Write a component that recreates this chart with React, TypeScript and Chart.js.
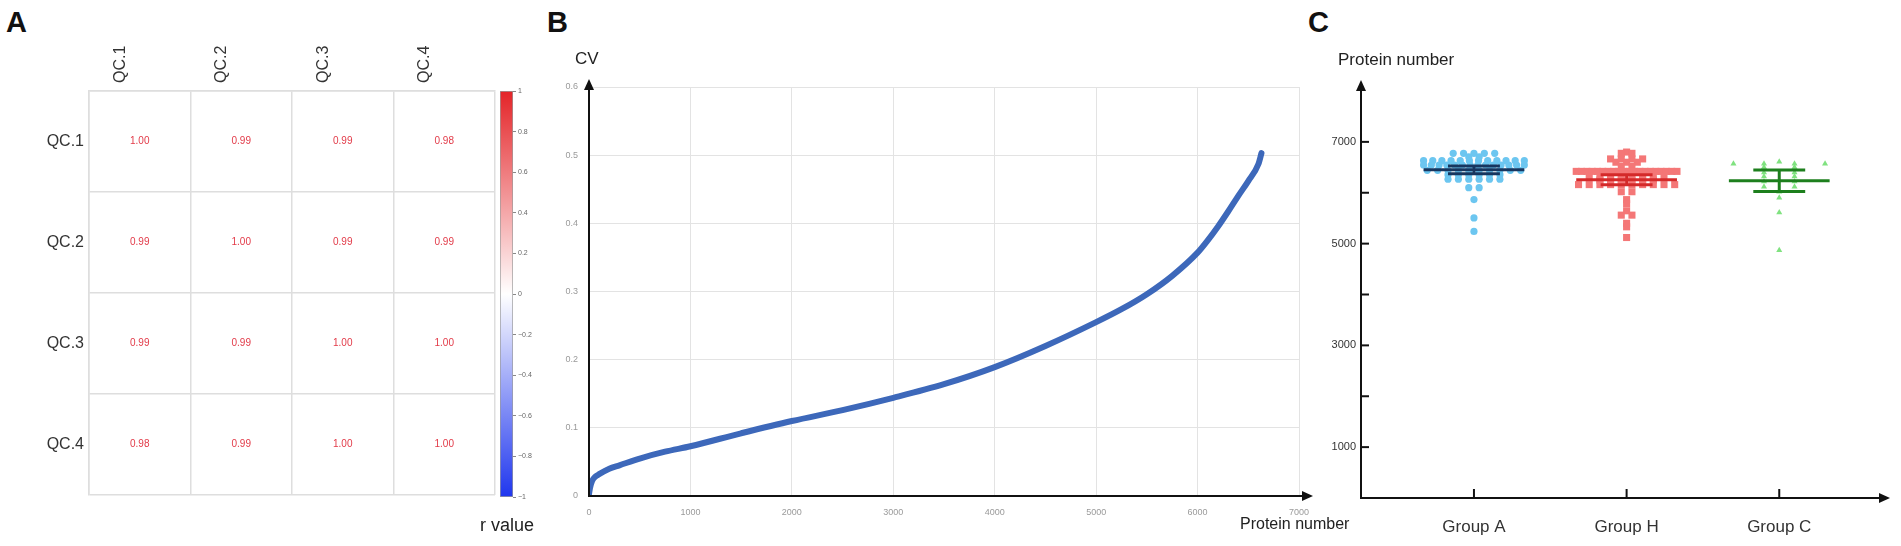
import React, { useEffect, useRef } from 'react';
import { Chart, registerables } from 'chart.js';

Chart.register(...registerables);

const FONT = '"Liberation Sans", Arial, Helvetica, sans-serif';

// ---------- Panel A: correlation matrix ----------
const qcLabels = ['QC.1', 'QC.2', 'QC.3', 'QC.4'];
const corrQC1 = [1.0, 0.99, 0.99, 0.98];
const corrQC2 = [0.99, 1.0, 0.99, 0.99];
const corrQC3 = [0.99, 0.99, 1.0, 1.0];
const corrQC4 = [0.98, 0.99, 1.0, 1.0];
const colorbarMin = -1;
const colorbarMax = 1;
const colorbarStep = 0.2;

// ---------- Panel B: CV curve ----------
const proteinRank = [0, 10, 30, 60, 100, 200, 300, 500, 750, 1000, 1500, 2000, 2500, 3000, 3500, 4000, 4500, 5000, 5250, 5500, 5750, 6000, 6100, 6200, 6300, 6400, 6500, 6600, 6630];
const cvValues = [0.003, 0.012, 0.022, 0.028, 0.032, 0.04, 0.045, 0.055, 0.065, 0.073, 0.092, 0.11, 0.126, 0.144, 0.164, 0.189, 0.22, 0.255, 0.274, 0.296, 0.323, 0.357, 0.375, 0.395, 0.417, 0.44, 0.462, 0.487, 0.503];
const cvAxisMax = 0.6;
const cvAxisStep = 0.1;
const rankAxisMax = 7000;
const rankAxisStep = 1000;

// ---------- Panel C: protein numbers per group ----------
const groupNames = ['Group A', 'Group H', 'Group C'];
const groupAValues = [
  6775, 6775, 6775, 6775, 6775,
  6705, 6705,
  6630, 6630, 6630, 6630, 6630, 6630, 6630, 6630, 6630, 6630, 6630, 6630,
  6545, 6545, 6545, 6545, 6545, 6545, 6545, 6545, 6545, 6545, 6545, 6545, 6545, 6545,
  6440, 6440, 6440, 6440, 6440, 6440, 6440, 6440, 6440, 6440,
  6355, 6355, 6355, 6355, 6355, 6355,
  6265, 6265, 6265, 6265, 6265, 6265,
  6100, 6100,
  5865, 5505, 5240,
];
const groupHValues = [
  6800, 6775, 6775,
  6665, 6665, 6665, 6665,
  6600, 6600, 6600,
  6520, 6520,
  6420, 6420, 6420, 6420, 6420, 6420, 6420, 6420, 6420, 6420,
  6420, 6420, 6420, 6420, 6420, 6420, 6420, 6420, 6420, 6420,
  6330, 6330, 6330, 6330, 6330, 6330, 6330, 6330,
  6250, 6250, 6250, 6250, 6250, 6250,
  6160, 6160, 6160, 6160, 6160, 6160, 6160, 6160, 6160, 6160,
  6020, 6020,
  5865, 5785, 5645, 5560, 5560, 5400, 5330, 5120,
];
const groupCValues = [
  6610,
  6570, 6570, 6570, 6570,
  6500, 6500,
  6400, 6400,
  6320, 6320,
  6220, 6220,
  6120, 6120,
  6020, 5900, 5610, 4870,
];
const groupMeans = [6450, 6255, 6235];
const groupErrors = [75, 100, 210];
const proteinTickValues = [1000, 2000, 3000, 4000, 5000, 6000, 7000];

const groupPointColors = ['#6cc6f0', '#f47777', '#80e280'];
const groupLineColors = ['#17365f', '#d42a2a', '#1d7f1d'];

// ---------- helpers ----------
function swarm(values: number[], idx: number, spacing: number, maxHalf: number) {
  const counts = new Map<number, number>();
  values.forEach((v) => counts.set(v, (counts.get(v) || 0) + 1));
  const seen = new Map<number, number>();
  return values.map((v) => {
    const n = counts.get(v) as number;
    const k = seen.get(v) || 0;
    seen.set(v, k + 1);
    const step = n > 1 ? Math.min(spacing, (2 * maxHalf) / (n - 1)) : 0;
    return { x: idx + (k - (n - 1) / 2) * step, y: v };
  });
}

const arrowAxes = (id: string, yTip: number, xTip: number) => ({
  id,
  afterDraw(chart: any) {
    const { ctx, chartArea: a } = chart;
    const top = a.top - yTip;
    const right = a.right + xTip;
    ctx.save();
    ctx.strokeStyle = '#111';
    ctx.fillStyle = '#111';
    ctx.lineWidth = 2;
    ctx.beginPath();
    ctx.moveTo(a.left, top + 8);
    ctx.lineTo(a.left, a.bottom);
    ctx.lineTo(right - 8, a.bottom);
    ctx.stroke();
    ctx.beginPath();
    ctx.moveTo(a.left, top);
    ctx.lineTo(a.left - 5, top + 11);
    ctx.lineTo(a.left + 5, top + 11);
    ctx.closePath();
    ctx.fill();
    ctx.beginPath();
    ctx.moveTo(right, a.bottom);
    ctx.lineTo(right - 11, a.bottom - 5);
    ctx.lineTo(right - 11, a.bottom + 5);
    ctx.closePath();
    ctx.fill();
    ctx.restore();
  },
});

type TextItem = { text: string; x: number; y: number; size: number; align: CanvasTextAlign };
const textPlugin = (id: string, items: TextItem[]) => ({
  id,
  afterDraw(chart: any) {
    const ctx = chart.ctx;
    ctx.save();
    items.forEach((it) => {
      ctx.font = `${it.size}px ${FONT}`;
      ctx.fillStyle = '#222';
      ctx.textAlign = it.align;
      ctx.textBaseline = 'middle';
      ctx.fillText(it.text, it.x, it.y);
    });
    ctx.restore();
  },
});

const baseOptions = {
  responsive: false,
  animation: false as const,
  devicePixelRatio: 1,
  events: [] as any[],
};

// ---------- Panel A charts ----------
function heatmapConfig(): any {
  const matrix = [corrQC1, corrQC2, corrQC3, corrQC4];
  const cells = matrix.flatMap((row, r) => row.map((v, c) => ({ x: qcLabels[c], y: qcLabels[r], v })));
  const cellText = {
    id: 'cellText',
    afterDatasetsDraw(chart: any) {
      const ctx = chart.ctx;
      const meta = chart.getDatasetMeta(0);
      const data = chart.data.datasets[0].data;
      ctx.save();
      ctx.font = `10px ${FONT}`;
      ctx.fillStyle = '#e23a48';
      ctx.textAlign = 'center';
      ctx.textBaseline = 'middle';
      meta.data.forEach((el: any, i: number) => ctx.fillText(data[i].v.toFixed(2), el.x, el.y));
      ctx.restore();
    },
  };
  const tickFont = { family: FONT, size: 16 };
  return {
    type: 'line',
    data: { datasets: [{ data: cells, showLine: false, pointRadius: 0, pointHoverRadius: 0 }] },
    options: {
      ...baseOptions,
      layout: { padding: { left: 0, right: 5, top: 0, bottom: 15 } },
      plugins: { legend: { display: false }, tooltip: { enabled: false } },
      scales: {
        x: {
          type: 'category',
          labels: qcLabels,
          position: 'top',
          offset: true,
          grid: { offset: true, color: '#dedede', lineWidth: 1.5, drawTicks: false },
          border: { color: '#dedede', width: 1.5 },
          ticks: { minRotation: 90, maxRotation: 90, autoSkip: false, padding: 8, color: '#333', font: tickFont },
          afterFit: (s: any) => { s.height = 51; },
        },
        y: {
          type: 'category',
          labels: qcLabels,
          offset: true,
          grid: { offset: true, color: '#dedede', lineWidth: 1.5, drawTicks: false },
          border: { color: '#dedede', width: 1.5 },
          ticks: { autoSkip: false, padding: 5, color: '#333', font: tickFont },
          afterFit: (s: any) => { s.width = 89; },
        },
      },
    },
    plugins: [cellText],
  };
}

function colorbarConfig(): any {
  return {
    type: 'bar',
    data: {
      labels: [''],
      datasets: [
        {
          data: [[colorbarMin, colorbarMax]],
          backgroundColor: (c: any) => {
            const ca = c.chart.chartArea;
            if (!ca) return '#fff';
            const g = c.chart.ctx.createLinearGradient(0, ca.top, 0, ca.bottom);
            g.addColorStop(0, '#e42428');
            g.addColorStop(0.5, '#ffffff');
            g.addColorStop(1, '#1f36ee');
            return g;
          },
          borderColor: '#9a9a9a',
          borderWidth: 1,
          borderSkipped: false,
          barPercentage: 1,
          categoryPercentage: 1,
        },
      ],
    },
    options: {
      ...baseOptions,
      layout: { padding: { left: 5, right: 0, top: 11, bottom: 8 } },
      plugins: { legend: { display: false }, tooltip: { enabled: false } },
      scales: {
        x: { display: false },
        y: {
          position: 'right',
          min: colorbarMin,
          max: colorbarMax,
          ticks: {
            stepSize: colorbarStep,
            padding: 2,
            color: '#666',
            font: { family: FONT, size: 7 },
            callback: (v: number) => {
              const r = Math.round(v * 10) / 10;
              const s = Number.isInteger(r) ? String(r) : r.toFixed(1);
              return s.replace('-', '\u2212');
            },
          },
          grid: { drawOnChartArea: false, drawTicks: true, tickLength: 3, color: '#888' },
          border: { display: false },
          afterFit: (s: any) => { s.width = 32; },
        },
      },
    },
  };
}

// ---------- Panel B chart ----------
function cvConfig(): any {
  const tickFont = { family: FONT, size: 9 };
  return {
    type: 'scatter',
    data: {
      datasets: [
        {
          data: proteinRank.map((x, i) => ({ x, y: cvValues[i] })),
          showLine: true,
          borderColor: '#3d68ba',
          borderWidth: 6,
          pointRadius: 0,
          cubicInterpolationMode: 'monotone',
          borderCapStyle: 'round',
          borderJoinStyle: 'round',
        },
      ],
    },
    options: {
      ...baseOptions,
      layout: { padding: { left: 0, right: 81, top: 47, bottom: 20 } },
      plugins: { legend: { display: false }, tooltip: { enabled: false } },
      scales: {
        x: {
          type: 'linear',
          min: 0,
          max: rankAxisMax,
          ticks: { stepSize: rankAxisStep, padding: 11, color: '#9a9a9a', font: tickFont, maxRotation: 0, callback: (v: number) => String(v) },
          grid: { color: '#e3e3e3', drawTicks: false },
          border: { display: false },
          afterFit: (s: any) => { s.height = 30; },
        },
        y: {
          type: 'linear',
          min: 0,
          max: cvAxisMax,
          ticks: { stepSize: cvAxisStep, padding: 11, color: '#9a9a9a', font: tickFont, callback: (v: number) => String(Math.round(v * 10) / 10) },
          grid: { color: '#e3e3e3', drawTicks: false },
          border: { display: false },
          afterFit: (s: any) => { s.width = 49; },
        },
      },
    },
    plugins: [
      arrowAxes('arrowB', 8, 14),
      textPlugin('titlesB', [
        { text: 'CV', x: 35, y: 19, size: 17, align: 'left' },
        { text: 'Protein number', x: 700, y: 485, size: 16, align: 'left' },
      ]),
    ],
  };
}

// ---------- Panel C chart ----------
function groupConfig(): any {
  const lineDatasets = groupNames.flatMap((_, i) => {
    const m = groupMeans[i];
    const e = groupErrors[i];
    const mk = (pts: { x: number; y: number }[]) => ({
      data: pts,
      showLine: true,
      borderColor: groupLineColors[i],
      borderWidth: 3,
      pointRadius: 0,
    });
    return [
      mk([{ x: i - 0.33, y: m }, { x: i + 0.33, y: m }]),
      mk([{ x: i - 0.17, y: m + e }, { x: i + 0.17, y: m + e }]),
      mk([{ x: i - 0.17, y: m - e }, { x: i + 0.17, y: m - e }]),
      mk([{ x: i, y: m - e }, { x: i, y: m + e }]),
    ];
  });
  const pointDatasets = [
    { data: swarm(groupAValues, 0, 0.068, 0.33), pointStyle: 'circle', pointRadius: 3.6, backgroundColor: groupPointColors[0] },
    { data: swarm(groupHValues, 1, 0.07, 0.33), pointStyle: 'rect', pointRadius: 5, backgroundColor: groupPointColors[1] },
    { data: swarm(groupCValues, 2, 0.2, 0.3), pointStyle: 'triangle', pointRadius: 3.5, backgroundColor: groupPointColors[2] },
  ].map((d) => ({ ...d, showLine: false, borderWidth: 0 }));

  const innerTicks = {
    id: 'innerTicks',
    afterDraw(chart: any) {
      const { ctx, chartArea: a, scales } = chart;
      ctx.save();
      ctx.strokeStyle = '#111';
      ctx.lineWidth = 2;
      scales.y.ticks.forEach((t: any) => {
        const p = scales.y.getPixelForValue(t.value);
        ctx.beginPath();
        ctx.moveTo(a.left, p);
        ctx.lineTo(a.left + 8, p);
        ctx.stroke();
      });
      scales.x.ticks.forEach((t: any) => {
        const p = scales.x.getPixelForValue(t.value);
        ctx.beginPath();
        ctx.moveTo(p, a.bottom);
        ctx.lineTo(p, a.bottom - 9);
        ctx.stroke();
      });
      ctx.restore();
    },
  };

  return {
    type: 'scatter',
    data: { datasets: [...lineDatasets, ...pointDatasets] },
    options: {
      ...baseOptions,
      layout: { padding: { left: 0, right: 21, top: 51, bottom: 0 } },
      plugins: { legend: { display: false }, tooltip: { enabled: false } },
      scales: {
        x: {
          type: 'linear',
          min: -0.74,
          max: 2.66,
          afterBuildTicks: (s: any) => { s.ticks = groupNames.map((_, i) => ({ value: i })); },
          ticks: { padding: 19, color: '#333', font: { family: FONT, size: 17 }, maxRotation: 0, callback: (v: number) => groupNames[v] ?? '' },
          grid: { display: false, drawTicks: false },
          border: { display: false },
          afterFit: (s: any) => { s.height = 48; },
        },
        y: {
          type: 'linear',
          min: 0,
          max: 8000,
          afterBuildTicks: (s: any) => { s.ticks = proteinTickValues.map((v) => ({ value: v })); },
          ticks: { padding: 5, color: '#333', font: { family: FONT, size: 11 }, callback: (v: number) => (v % 2000 === 1000 ? String(v) : '') },
          grid: { display: false, drawTicks: false },
          border: { display: false },
          afterFit: (s: any) => { s.width = 61; },
        },
      },
    },
    plugins: [
      arrowAxes('arrowC', 11, 10),
      innerTicks,
      textPlugin('titlesC', [{ text: 'Protein number', x: 38, y: 20, size: 17, align: 'left' }]),
    ],
  };
}

function ChartCanvas({ config, left, top, width, height }: { config: () => any; left: number; top: number; width: number; height: number }) {
  const ref = useRef<HTMLCanvasElement | null>(null);
  useEffect(() => {
    const chart = new Chart(ref.current as HTMLCanvasElement, config());
    return () => chart.destroy();
  }, []);
  return (
    <canvas
      ref={ref}
      width={width}
      height={height}
      style={{ position: 'absolute', left, top, width, height }}
    />
  );
}

const letterStyle = (left: number): React.CSSProperties => ({
  position: 'absolute',
  left,
  top: 8,
  fontFamily: FONT,
  fontWeight: 'bold',
  fontSize: 29,
  lineHeight: '29px',
  color: '#111',
});

export default function App() {
  return (
    <div
      style={{
        position: 'fixed',
        left: 0,
        top: 0,
        width: 1901,
        height: 546,
        background: '#fff',
        overflow: 'hidden',
      }}
    >
      <div style={letterStyle(6)}>A</div>
      <div style={letterStyle(547)}>B</div>
      <div style={letterStyle(1308)}>C</div>

      <ChartCanvas config={heatmapConfig} left={0} top={40} width={500} height={470} />
      <ChartCanvas config={colorbarConfig} left={495} top={80} width={50} height={425} />
      <div
        style={{
          position: 'absolute',
          left: 480,
          top: 515,
          fontFamily: FONT,
          fontSize: 18,
          lineHeight: '20px',
          color: '#222',
        }}
      >
        r value
      </div>

      <ChartCanvas config={cvConfig} left={540} top={40} width={840} height={506} />
      <ChartCanvas config={groupConfig} left={1300} top={40} width={601} height={506} />
    </div>
  );
}
